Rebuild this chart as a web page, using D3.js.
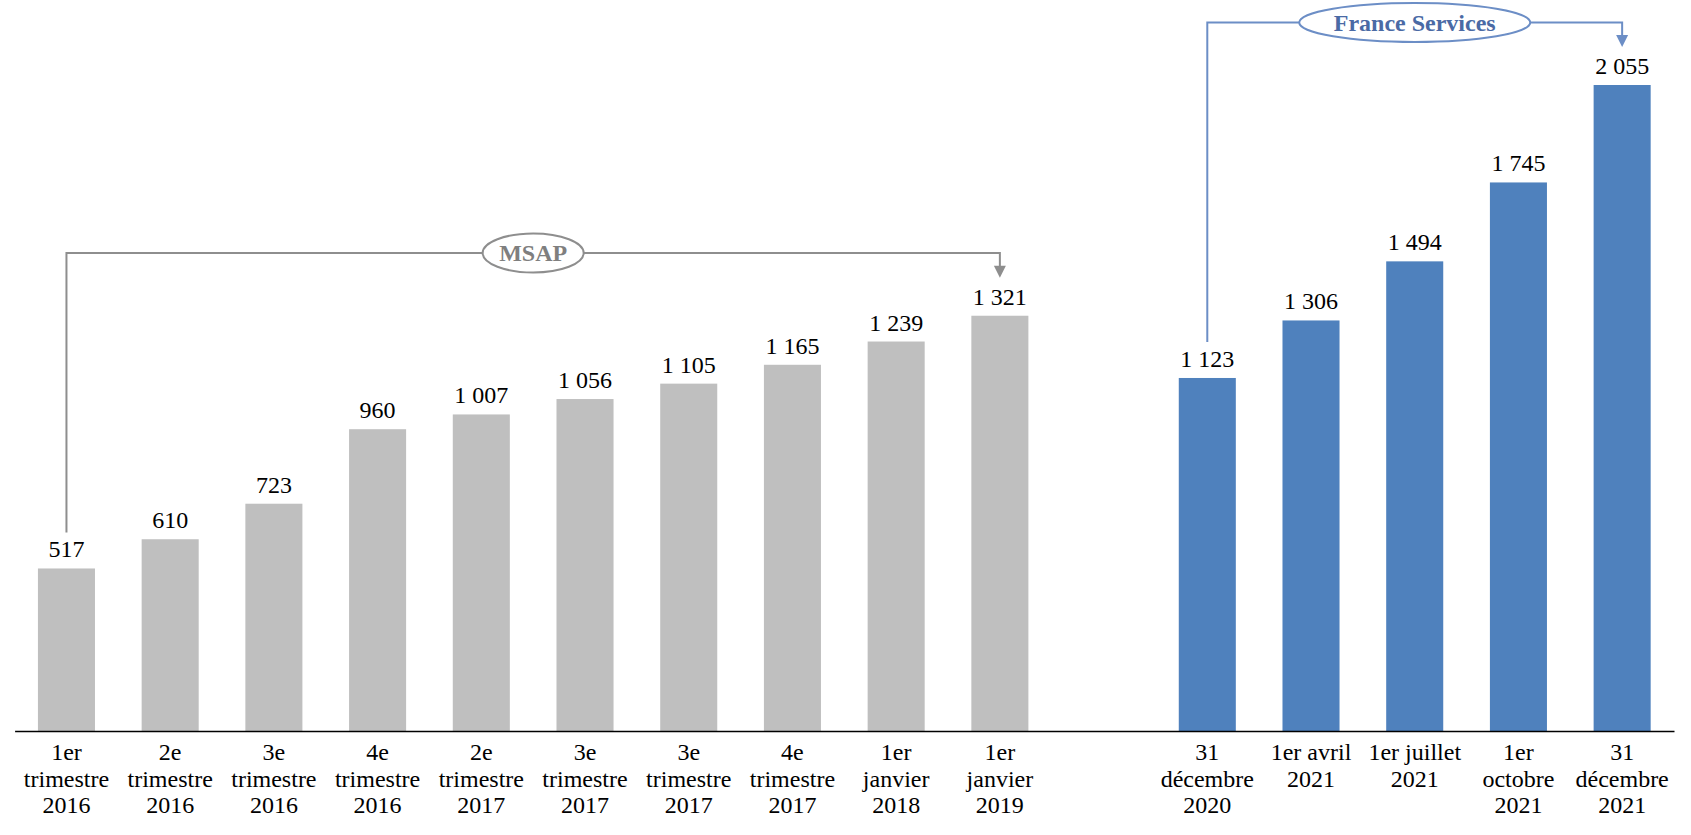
<!DOCTYPE html>
<html>
<head>
<meta charset="utf-8">
<script src="https://cdn.jsdelivr.net/npm/d3@7"></script>
<style>
  body { margin: 0; background: #fff; }
  svg text { font-family: "Liberation Serif", "Times New Roman", serif; }
</style>
</head>
<body>
<script>
// MSAP period (grey bars)
var msapDates = ["1er\ntrimestre\n2016", "2e\ntrimestre\n2016", "3e\ntrimestre\n2016", "4e\ntrimestre\n2016",
                 "2e\ntrimestre\n2017", "3e\ntrimestre\n2017", "3e\ntrimestre\n2017", "4e\ntrimestre\n2017",
                 "1er\njanvier\n2018", "1er\njanvier\n2019"];
var msapValues = [517, 610, 723, 960, 1007, 1056, 1105, 1165, 1239, 1321];

// France Services period (blue bars)
var fsDates = ["31\ndécembre\n2020", "1er avril\n2021", "1er juillet\n2021", "1er\noctobre\n2021", "31\ndécembre\n2021"];
var fsValues = [1123, 1306, 1494, 1745, 2055];

var width = 1691, height = 835;
var axisY = 731;
var serif = "'Liberation Serif', 'Times New Roman', serif";

// one empty slot between the two periods
var rows = [];
msapDates.forEach(function(d, i) { rows.push({key: "m" + i, label: d, value: msapValues[i], group: "msap"}); });
rows.push({key: "gap", label: "", value: null, group: "gap"});
fsDates.forEach(function(d, i) { rows.push({key: "f" + i, label: d, value: fsValues[i], group: "fs"}); });

var labelOf = {};
rows.forEach(function(r) { labelOf[r.key] = r.label; });

var x = d3.scaleBand()
    .domain(rows.map(function(d) { return d.key; }))
    .range([14.6, 1674])
    .paddingInner(0.45)
    .paddingOuter(0.225);

var y = d3.scaleLinear()
    .domain([0, 2055])
    .range([axisY, 85]);

var fr = d3.formatLocale({decimal: ",", thousands: " ", grouping: [3], currency: ["", " €"]});
var fmt = fr.format(",d");

var color = {msap: "#bfbfbf", fs: "#4f81bd"};

var svg = d3.select("body")
    .append("svg")
    .attr("width", width)
    .attr("height", height)
    .attr("font-family", serif);

var bars = rows.filter(function(d) { return d.value !== null; });

// Bars
svg.selectAll(".bar")
    .data(bars)
    .enter().append("rect")
      .attr("class", "bar")
      .attr("x", function(d) { return x(d.key); })
      .attr("width", x.bandwidth())
      .attr("y", function(d) { return y(d.value); })
      .attr("height", function(d) { return axisY - y(d.value); })
      .style("fill", function(d) { return color[d.group]; });

// Value labels
svg.selectAll(".val")
    .data(bars)
    .enter().append("text")
      .attr("class", "val")
      .attr("x", function(d) { return x(d.key) + x.bandwidth() / 2; })
      .attr("y", function(d) { return y(d.value) - 11; })
      .attr("text-anchor", "middle")
      .style("font-size", "24px")
      .style("fill", "#000")
      .text(function(d) { return fmt(d.value); });

// X axis
var xAxis = d3.axisBottom(x).tickSize(0).tickSizeOuter(0).tickFormat("");
var gx = svg.append("g")
    .attr("class", "x-axis")
    .attr("transform", "translate(0," + axisY + ")")
    .call(xAxis)
    .attr("font-family", serif)
    .attr("font-size", 24);
gx.select(".domain").attr("stroke", "#000").attr("stroke-width", 1.3);

gx.selectAll(".tick").each(function(k) {
  var t = d3.select(this).select("text")
      .attr("y", 0)
      .attr("dy", null)
      .style("font-size", "24px")
      .style("fill", "#000");
  labelOf[k].split("\n").forEach(function(line, i) {
    t.append("tspan").attr("x", 0).attr("y", 29 + i * 26.5).text(line);
  });
});

// Bracket annotations
function cx(key) { return x(key) + x.bandwidth() / 2; }

function bracket(opts) {
  var x0 = cx(opts.from), x1 = cx(opts.to);
  var y0 = y(opts.fromValue) - 36;
  var tip = y(opts.toValue) - 38;
  var g = svg.append("g");
  g.append("path")
      .attr("d", "M" + x0 + "," + y0 + "V" + opts.level + "H" + x1 + "V" + (tip - 11))
      .attr("fill", "none")
      .attr("stroke", opts.line)
      .attr("stroke-width", 2);
  g.append("path")
      .attr("d", "M" + (x1 - 6) + "," + (tip - 12) + "L" + (x1 + 6) + "," + (tip - 12) + "L" + x1 + "," + tip + "Z")
      .attr("fill", opts.line);
  var mx = (x0 + x1) / 2;
  g.append("ellipse")
      .attr("cx", mx)
      .attr("cy", opts.level)
      .attr("rx", opts.rx)
      .attr("ry", 19.5)
      .attr("fill", "#fff")
      .attr("stroke", opts.line)
      .attr("stroke-width", 2);
  g.append("text")
      .attr("x", mx)
      .attr("y", opts.level + 8)
      .attr("text-anchor", "middle")
      .style("font-size", "24px")
      .style("font-weight", "bold")
      .style("fill", opts.textColor)
      .text(opts.label);
}

bracket({from: "m0", to: "m9", fromValue: msapValues[0], toValue: msapValues[9],
         level: 253, rx: 50.5, label: "MSAP", line: "#8e8e8e", textColor: "#7f7f7f"});
bracket({from: "f0", to: "f4", fromValue: fsValues[0], toValue: fsValues[4],
         level: 22.5, rx: 115.5, label: "France Services", line: "#6c8ec6", textColor: "#4a6aa5"});
</script>
</body>
</html>
